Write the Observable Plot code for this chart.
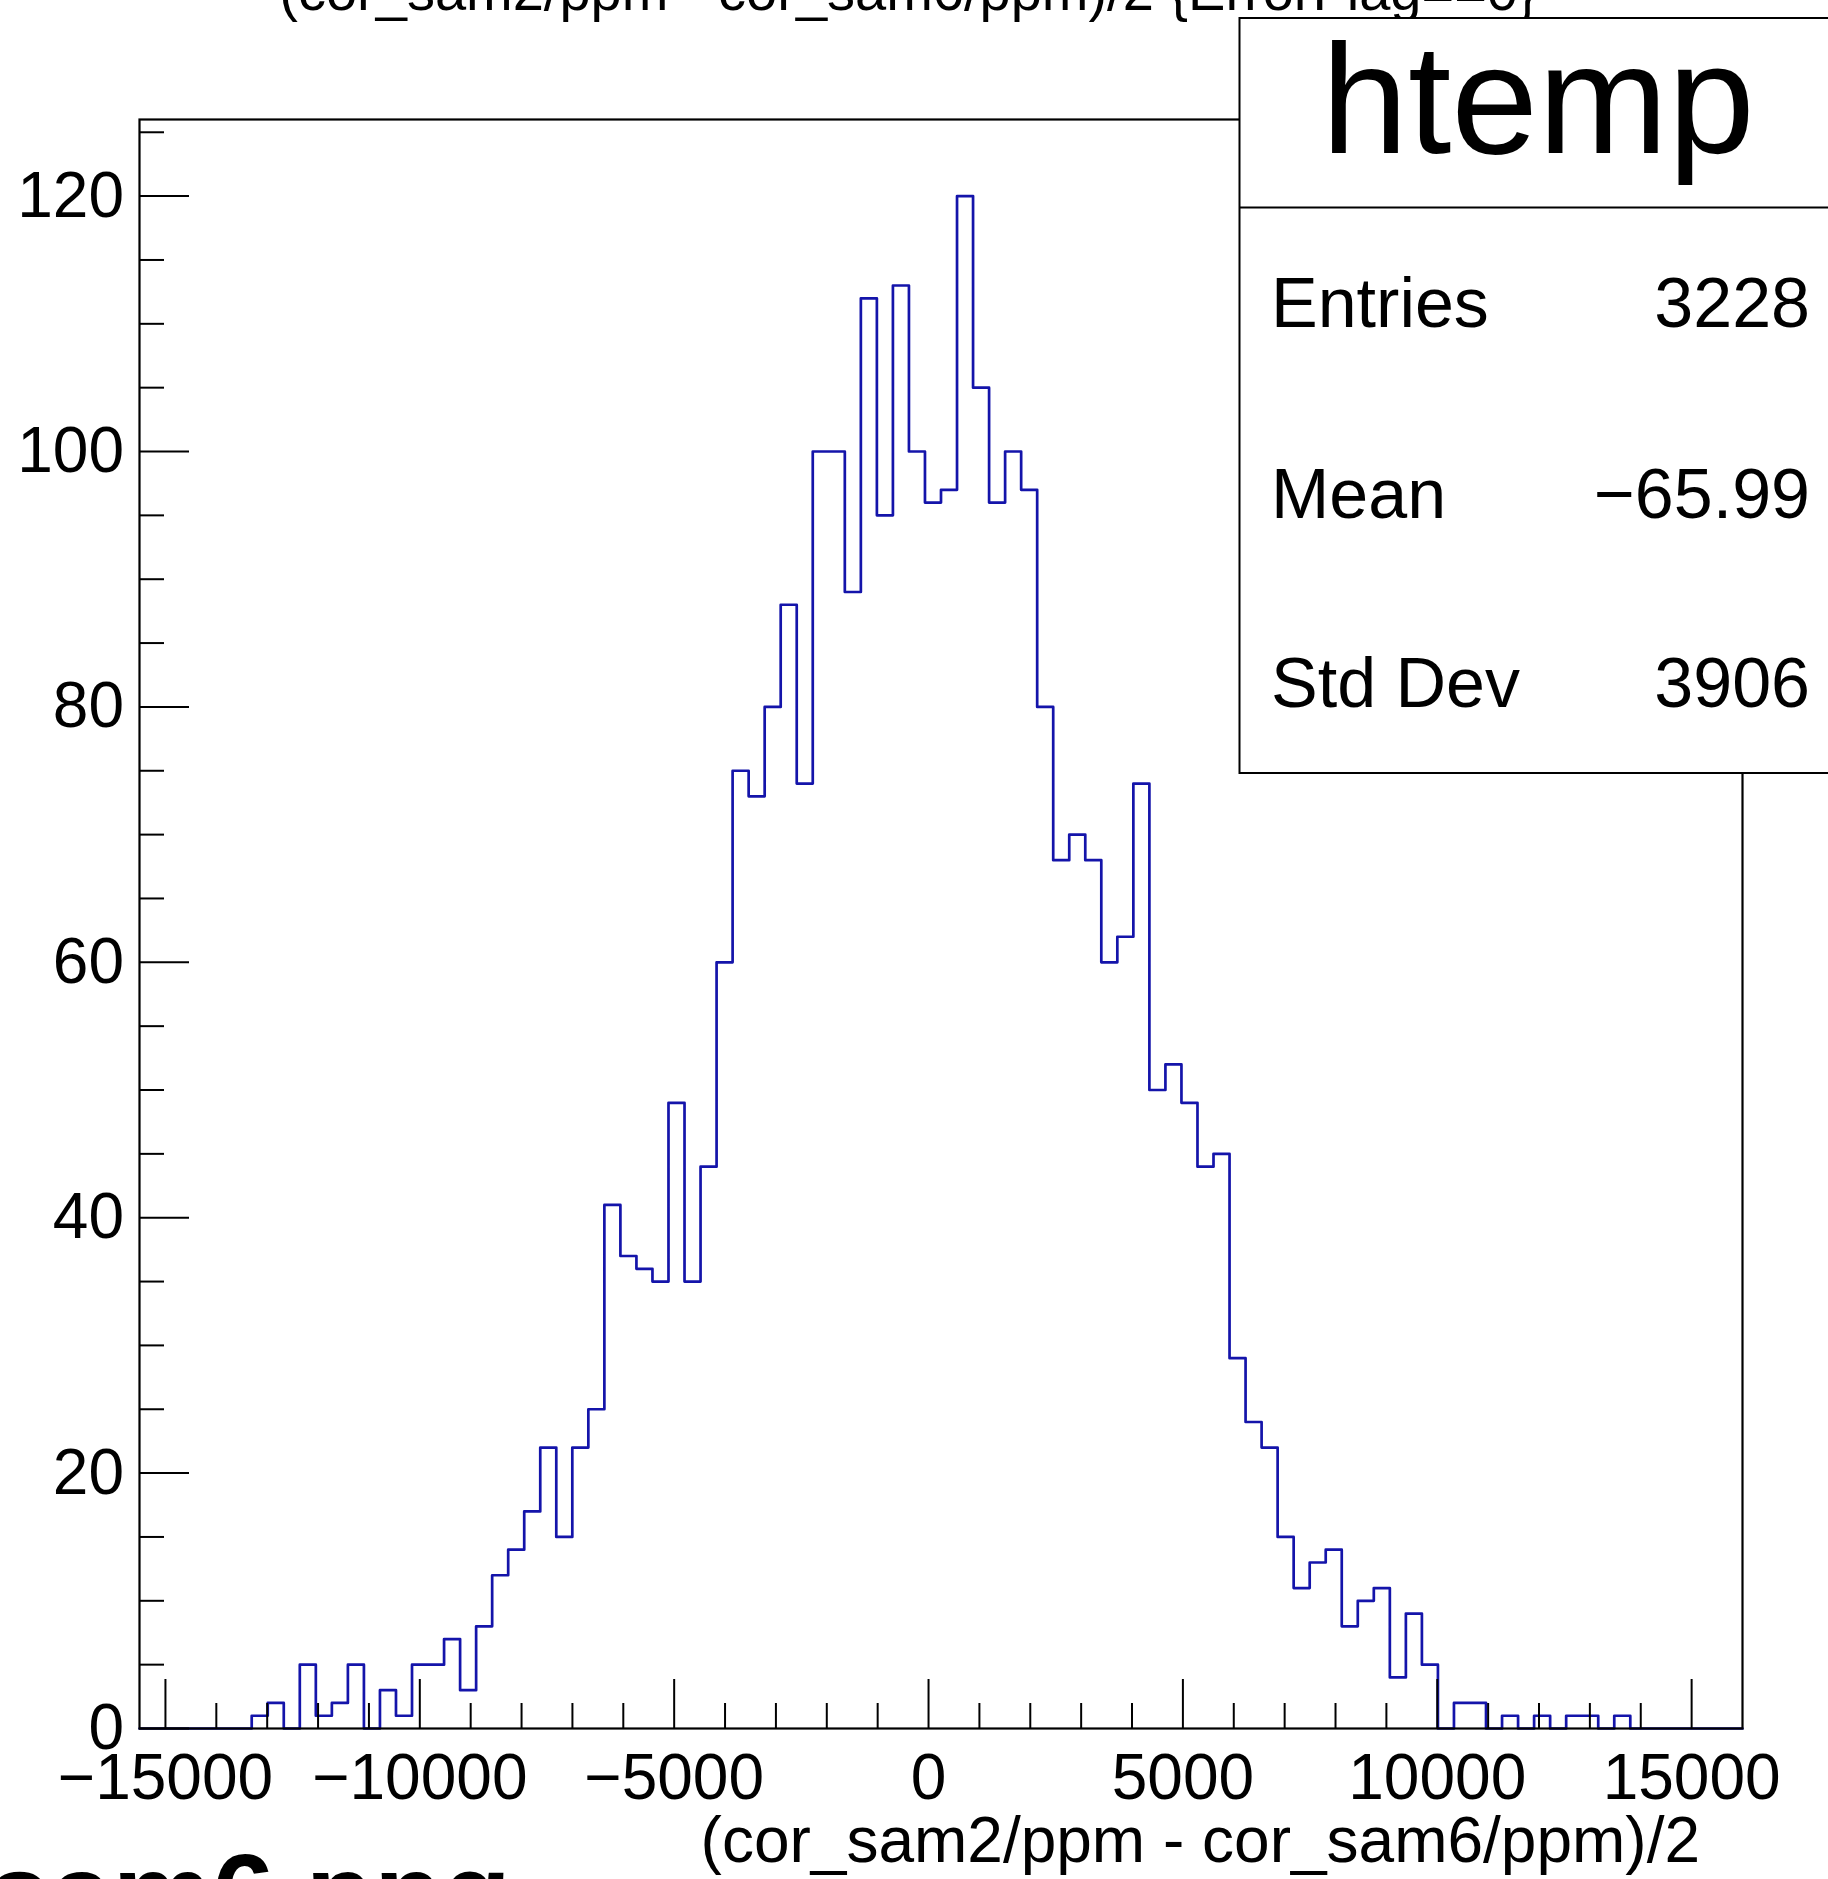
<!DOCTYPE html>
<html>
<head>
<meta charset="utf-8">
<script src="https://cdn.jsdelivr.net/npm/d3@7"></script>
<script src="https://cdn.jsdelivr.net/npm/@observablehq/plot@0.6"></script>
<style>
html, body { margin: 0; padding: 0; background: #fff; overflow: hidden; }
#page { position: relative; width: 1828px; height: 1879px; overflow: hidden; background: #fff; }
#page svg { display: block; }
</style>
</head>
<body>
<div id="page"></div>
<script>
// ---------- data ----------
const histTitle = "(cor_sam2/ppm - cor_sam6/ppm)/2 {ErrorFlag==0}";
const xAxisTitle = "(cor_sam2/ppm - cor_sam6/ppm)/2";
const histName = "htemp";
const captionText = "sam6.png";

const nBins = 100;
const xMin = -15510;
const xMax = 16000;
const yMax = 126;

// bin contents, left to right (100 bins)
const counts = [
  0, 0, 0, 0, 0, 0, 0, 1, 2, 0,
  5, 1, 2, 5, 0, 3, 1, 5, 5, 7,
  3, 8, 12, 14, 17, 22, 15, 22, 25, 41,
  37, 36, 35, 49, 35, 44, 60, 75, 73, 80,
  88, 74, 100, 100, 89, 112, 95, 113, 100, 96,
  97, 120, 105, 96, 100, 97, 80, 68, 70, 68,
  60, 62, 74, 50, 52, 49, 44, 45, 29, 24,
  22, 15, 11, 13, 14, 8, 10, 11, 4, 9,
  5, 0, 2, 2, 0, 1, 0, 1, 0, 1,
  1, 0, 1, 0, 0, 0, 0, 0, 0, 0
];

const xMajorTicks = [-15000, -10000, -5000, 0, 5000, 10000, 15000];
const xMinorTicks = [-14000, -13000, -12000, -11000, -9000, -8000, -7000, -6000,
  -4000, -3000, -2000, -1000, 1000, 2000, 3000, 4000, 6000, 7000, 8000, 9000,
  11000, 12000, 13000, 14000];
const yMajorTicks = [0, 20, 40, 60, 80, 100, 120];
const yMinorTicks = [5, 10, 15, 25, 30, 35, 45, 50, 55, 65, 70, 75, 85, 90, 95,
  105, 110, 115, 125];

const statNames = ["Entries", "Mean", "Std Dev"];
const statValues = ["3228", "\u221265.99", "3906"];

// ---------- layout ----------
const FONT = '"Liberation Sans", Arial, Helvetica, sans-serif';
const W = 1828, H = 1879;
const mL = 139, mR = 86, mT = 119, mB = 151;
const frameW = W - mL - mR, frameH = H - mT - mB;

const binWidth = (xMax - xMin) / nBins;
const steps = counts.map((c, i) => ({x: xMin + i * binWidth, y: c}))
  .concat([{x: xMax, y: counts[nBins - 1]}]);

const fmt = d => (d < 0 ? "\u2212" : "") + Math.abs(d);

const plot = Plot.plot({
  width: W,
  height: H,
  marginLeft: mL, marginRight: mR, marginTop: mT, marginBottom: mB,
  style: {fontFamily: FONT, background: "white", color: "black"},
  x: {domain: [xMin, xMax], axis: null},
  y: {domain: [0, yMax], axis: null},
  marks: [
    Plot.line(steps, {x: "x", y: "y", curve: "step-after", stroke: "#1414aa", strokeWidth: 2.7}),
    // x ticks (inward, from bottom)
    Plot.ruleX(xMinorTicks, {x: d => d, insetTop: frameH - 25, stroke: "black", strokeWidth: 2}),
    Plot.ruleX(xMajorTicks, {x: d => d, insetTop: frameH - 49, stroke: "black", strokeWidth: 2}),
    // y ticks (inward, from left)
    Plot.ruleY(yMinorTicks, {y: d => d, insetRight: frameW - 25, stroke: "black", strokeWidth: 2}),
    Plot.ruleY(yMajorTicks, {y: d => d, insetRight: frameW - 50, stroke: "black", strokeWidth: 2}),
    Plot.frame({stroke: "black", strokeWidth: 2.2}),
    // tick labels
    Plot.text(xMajorTicks, {x: d => d, frameAnchor: "bottom", dy: 24.6, lineAnchor: "top",
      text: fmt, fontSize: 64, fontFamily: FONT, fill: "black"}),
    Plot.text(yMajorTicks, {y: d => d, frameAnchor: "left", dx: -15.5, textAnchor: "end",
      lineAnchor: "middle", text: fmt, fontSize: 64, fontFamily: FONT, fill: "black"})
  ]
});

document.getElementById("page").appendChild(plot);

// ---------- annotations: titles, stats box, caption ----------
const svg = d3.select(plot);
svg.style("overflow", "hidden");

svg.append("text")
  .attr("x", 908).attr("y", 10)
  .attr("text-anchor", "middle")
  .attr("font-family", FONT).attr("font-size", 56)
  .attr("fill", "black")
  .text(histTitle);

svg.append("text")
  .attr("x", 1700).attr("y", 1862)
  .attr("text-anchor", "end")
  .attr("font-family", FONT).attr("font-size", 64)
  .attr("fill", "black")
  .text(xAxisTitle);

svg.append("text")
  .attr("x", 511).attr("y", 1932)
  .attr("text-anchor", "end")
  .attr("font-family", FONT).attr("font-size", 112).attr("font-weight", "bold")
  .attr("fill", "black")
  .text(captionText);

const box = svg.append("g");
box.append("rect")
  .attr("x", 1239.5).attr("y", 18)
  .attr("width", 700).attr("height", 755)
  .attr("fill", "white").attr("stroke", "black").attr("stroke-width", 2);
box.append("line")
  .attr("x1", 1239.5).attr("x2", 1940)
  .attr("y1", 207.5).attr("y2", 207.5)
  .attr("stroke", "black").attr("stroke-width", 2);
box.append("text")
  .attr("x", 1538).attr("y", 153)
  .attr("text-anchor", "middle")
  .attr("font-family", FONT).attr("font-size", 156)
  .attr("fill", "black")
  .text(histName);

const rowBaselines = [327, 518, 707];
statNames.forEach((name, i) => {
  box.append("text")
    .attr("x", 1271).attr("y", rowBaselines[i])
    .attr("text-anchor", "start")
    .attr("font-family", FONT).attr("font-size", 70)
    .attr("fill", "black")
    .text(name);
  box.append("text")
    .attr("x", 1810).attr("y", rowBaselines[i])
    .attr("text-anchor", "end")
    .attr("font-family", FONT).attr("font-size", 70)
    .attr("fill", "black")
    .text(statValues[i]);
});
</script>
</body>
</html>
